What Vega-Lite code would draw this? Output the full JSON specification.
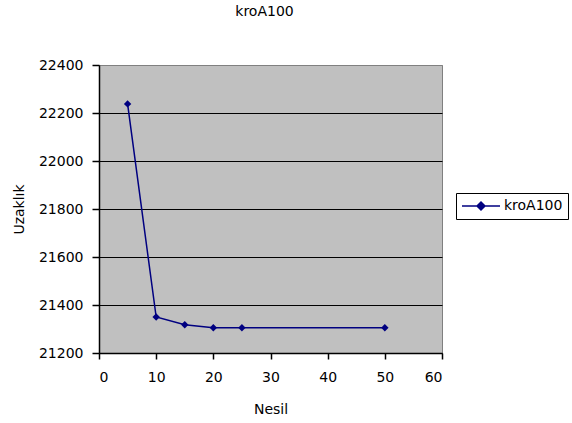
{
  "$schema": "https://vega.github.io/schema/vega-lite/v6.json",
  "autosize": {"type": "none"},
  "width": 343,
  "height": 288,
  "padding": {"left": 99, "top": 65, "right": 130, "bottom": 70},
  "background": "white",
  "title": {"text": "kroA100", "font": "DejaVu Sans", "fontSize": 14, "fontWeight": "normal", "color": "black", "anchor": "middle", "offset": 39, "dx": -6},
  "config": {
    "view": {"fill": "#C0C0C0", "stroke": "#808080", "strokeWidth": 1},
    "axis": {"labelFont": "DejaVu Sans", "titleFont": "DejaVu Sans", "labelFontSize": 14, "titleFontSize": 14, "titleFontWeight": "normal", "labelColor": "black", "titleColor": "black", "domainColor": "black", "tickColor": "black", "domainWidth": 1.5, "tickWidth": 1.5}
  },
  "data": {"values": [
    {"Nesil": 5, "Uzaklik": 22238, "seri": "kroA100"},
    {"Nesil": 10, "Uzaklik": 21350, "seri": "kroA100"},
    {"Nesil": 15, "Uzaklik": 21318, "seri": "kroA100"},
    {"Nesil": 20, "Uzaklik": 21305, "seri": "kroA100"},
    {"Nesil": 25, "Uzaklik": 21305, "seri": "kroA100"},
    {"Nesil": 50, "Uzaklik": 21305, "seri": "kroA100"}
  ]},
  "mark": {"type": "line", "strokeWidth": 1.5, "point": {"shape": "diamond", "size": 55, "filled": true}},
  "encoding": {
    "x": {"field": "Nesil", "type": "quantitative", "title": "Nesil",
      "scale": {"domain": [0, 60], "nice": false},
      "axis": {"values": [0, 10, 20, 30, 40, 50, 60], "grid": false, "tickSize": 6, "labelPadding": 11, "titlePadding": 18}},
    "y": {"field": "Uzaklik", "type": "quantitative", "title": "Uzaklık",
      "scale": {"domain": [21200, 22400], "nice": false, "zero": false},
      "axis": {"values": [21200, 21400, 21600, 21800, 22000, 22200, 22400], "format": "d", "grid": true,
        "gridColor": {"condition": {"test": "datum.value >= 22400", "value": "#808080"}, "value": "black"},
        "gridWidth": 1.2, "tickSize": 7, "labelPadding": 9, "titlePadding": 12}},
    "color": {"field": "seri", "type": "nominal", "title": null,
      "scale": {"range": ["#000080"]},
      "legend": {"orient": "none", "legendX": 357, "legendY": 128, "strokeColor": "black", "fillColor": "white", "padding": 5,
        "clipHeight": 16,
        "symbolType": "M-1,0H1M-0.21,0L0,-0.21L0.21,0L0,0.21Z", "symbolSize": 1444, "symbolStrokeWidth": 1.5, "labelOffset": 3,
        "symbolFillColor": "#000080", "labelFont": "DejaVu Sans", "labelFontSize": 14, "labelColor": "black"}}
  }
}
